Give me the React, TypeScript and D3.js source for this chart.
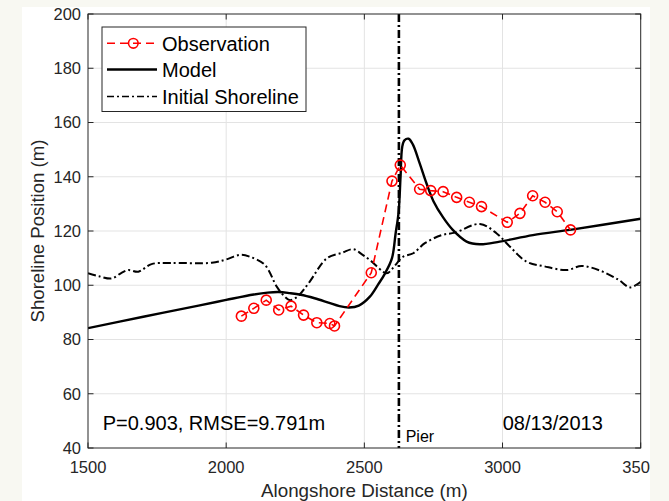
import React from "react";
import * as d3 from "d3";

const obsX = [2055, 2100, 2145, 2190, 2235, 2280, 2328, 2375, 2392, 2525, 2600, 2630, 2700, 2740, 2785, 2834, 2880, 2924, 3017, 3063, 3109, 3154, 3198, 3246];
const obsY = [88.6, 91.5, 94.5, 90.9, 92.3, 89.0, 86.2, 85.9, 85.0, 104.6, 138.4, 144.3, 135.4, 134.9, 134.5, 132.4, 130.6, 129.0, 123.2, 126.5, 133.0, 130.6, 127.1, 120.4];

const modelX = [1500, 1700, 1900, 2000, 2100, 2150, 2190, 2230, 2270, 2320, 2370, 2410, 2445, 2480, 2520, 2550, 2575, 2600, 2613, 2624, 2631, 2637, 2645, 2660, 2675, 2700, 2725, 2750, 2785, 2820, 2870, 2918, 2990, 3110, 3256, 3500];
const modelY = [84.2, 88.4, 92.5, 94.6, 96.6, 97.3, 97.5, 97.1, 96.5, 95.2, 93.6, 92.3, 91.8, 92.5, 95.8, 100.3, 104.4, 110, 119, 127, 140, 151, 153.4, 154, 152, 145, 137.5, 131, 125, 120.4, 116.1, 115.1, 116.1, 118.5, 120.6, 124.5];

const initX = [1500, 1540, 1586, 1620, 1646, 1682, 1730, 1800, 1948, 2000, 2050, 2086, 2140, 2183, 2210, 2231, 2260, 2300, 2364, 2420, 2460, 2490, 2520, 2581, 2600, 2617, 2640, 2677, 2719, 2780, 2828, 2918, 2979, 3027, 3087, 3150, 3232, 3286, 3353, 3420, 3462, 3500];
const initY = [104.4, 103.3, 102.5, 104.5, 105.6, 105.0, 107.8, 108.2, 108.3, 109.5, 111.2, 110.5, 107.5, 99.5, 96, 94.5, 96, 101, 109.9, 112, 113.3, 111.5, 109.3, 104.4, 106, 108, 110.5, 111.8, 115.5, 118.5, 119.4, 122.6, 119.1, 114.2, 108.7, 107, 105.6, 107.1, 105.4, 102, 99.2, 101.3];

const pierX = 2625;
const xTicks = [1500, 2000, 2500, 3000, 3500];
const yTicks = [40, 60, 80, 100, 120, 140, 160, 180, 200];
const legendLabels = ["Observation", "Model", "Initial Shoreline"];

const FONT = "'Liberation Sans', Arial, Helvetica, sans-serif";
const AX = "#262626";

export default function App() {
  const L = 88, R = 640.7, T = 14, B = 448;
  const x = d3.scaleLinear().domain([1500, 3500]).range([L, R]);
  const y = d3.scaleLinear().domain([40, 200]).range([B, T]);

  const lineLin = d3.line<[number, number]>().x(d => x(d[0])).y(d => y(d[1]));
  const lineSmooth = d3.line<[number, number]>().x(d => x(d[0])).y(d => y(d[1])).curve(d3.curveCatmullRom.alpha(0.5));

  const obs: [number, number][] = obsX.map((v, i) => [v, obsY[i]]);
  const model: [number, number][] = modelX.map((v, i) => [v, modelY[i]]);
  const init: [number, number][] = initX.map((v, i) => [v, initY[i]]);

  const tickLen = 5.5;

  return (
    <svg width={669} height={501} style={{ position: "absolute", left: 0, top: 0 }} fontFamily={FONT}>
      <defs>
        <clipPath id="plotclip">
          <rect x={L} y={T} width={R - L} height={B - T} />
        </clipPath>
        <clipPath id="figclip">
          <rect x={22} y={7} width={628} height={494} />
        </clipPath>
      </defs>
      <rect x={0} y={0} width={669} height={501} fill="#f8f8f2" />
      <rect x={22} y={7} width={628} height={494} fill="#ffffff" />
      <g clipPath="url(#figclip)">
        {/* grid */}
        {xTicks.slice(1, -1).map(t => (
          <line key={"gx" + t} x1={x(t)} x2={x(t)} y1={T} y2={B} stroke="#e3e3e3" strokeWidth={1} />
        ))}
        {yTicks.slice(1, -1).map(t => (
          <line key={"gy" + t} x1={L} x2={R} y1={y(t)} y2={y(t)} stroke="#e3e3e3" strokeWidth={1} />
        ))}
        <g clipPath="url(#plotclip)">
          <path d={lineSmooth(init) || ""} fill="none" stroke="#000" strokeWidth={2} strokeDasharray="8,3,2,3" />
          <path d={lineSmooth(model) || ""} fill="none" stroke="#000" strokeWidth={2.4} />
          <line x1={x(pierX)} x2={x(pierX)} y1={T} y2={B} stroke="#000" strokeWidth={2.6} strokeDasharray="8,3,2,3" />
          <path d={lineLin(obs) || ""} fill="none" stroke="#ff0000" strokeWidth={1.6} strokeDasharray="8,5" />
          {obs.map((d, i) => (
            <circle key={"o" + i} cx={x(d[0])} cy={y(d[1])} r={5} fill="none" stroke="#ff0000" strokeWidth={1.6} />
          ))}
        </g>
        {/* axes box */}
        <rect x={L} y={T} width={R - L} height={B - T} fill="none" stroke={AX} strokeWidth={1} />
        {xTicks.map(t => (
          <g key={"tx" + t}>
            <line x1={x(t)} x2={x(t)} y1={B} y2={B - tickLen} stroke={AX} />
            <line x1={x(t)} x2={x(t)} y1={T} y2={T + tickLen} stroke={AX} />
            <text x={x(t)} y={472.5} textAnchor="middle" fontSize={16.5} fill={AX}>{t}</text>
          </g>
        ))}
        {yTicks.map(t => (
          <g key={"ty" + t}>
            <line x1={L} x2={L + tickLen} y1={y(t)} y2={y(t)} stroke={AX} />
            <line x1={R} x2={R - tickLen} y1={y(t)} y2={y(t)} stroke={AX} />
            <text x={81} y={y(t)} dy="0.35em" textAnchor="end" fontSize={16.5} fill={AX}>{t}</text>
          </g>
        ))}
        <text x={(L + R) / 2} y={497} textAnchor="middle" fontSize={18.8} fill={AX}>Alongshore Distance (m)</text>
        <text transform={`translate(43.5,${(T + B) / 2}) rotate(-90)`} textAnchor="middle" fontSize={18.6} fill={AX}>Shoreline Position (m)</text>

        {/* annotations */}
        <text x={102.7} y={430} fontSize={20} fill="#000">P=0.903, RMSE=9.791m</text>
        <text x={502.7} y={429.5} fontSize={20} fill="#000">08/13/2013</text>
        <text x={405.7} y={442} fontSize={16} fill="#000">Pier</text>

        {/* legend */}
        <rect x={102} y={27} width={204} height={84.5} fill="#fff" stroke={AX} strokeWidth={1} />
        <line x1={107} x2={157} y1={43.3} y2={43.3} stroke="#ff0000" strokeWidth={1.6} strokeDasharray="8,5" />
        <circle cx={133.3} cy={43.3} r={4.8} fill="none" stroke="#ff0000" strokeWidth={1.6} />
        <line x1={107} x2={157} y1={69.5} y2={69.5} stroke="#000" strokeWidth={2.4} />
        <line x1={107} x2={157} y1={96.5} y2={96.5} stroke="#000" strokeWidth={1.6} strokeDasharray="7,3,2,3" />
        <text x={162} y={50.5} fontSize={20} fill="#000">{legendLabels[0]}</text>
        <text x={162} y={77.3} fontSize={20} fill="#000">{legendLabels[1]}</text>
        <text x={162} y={104} fontSize={20} fill="#000">{legendLabels[2]}</text>
      </g>
    </svg>
  );
}
